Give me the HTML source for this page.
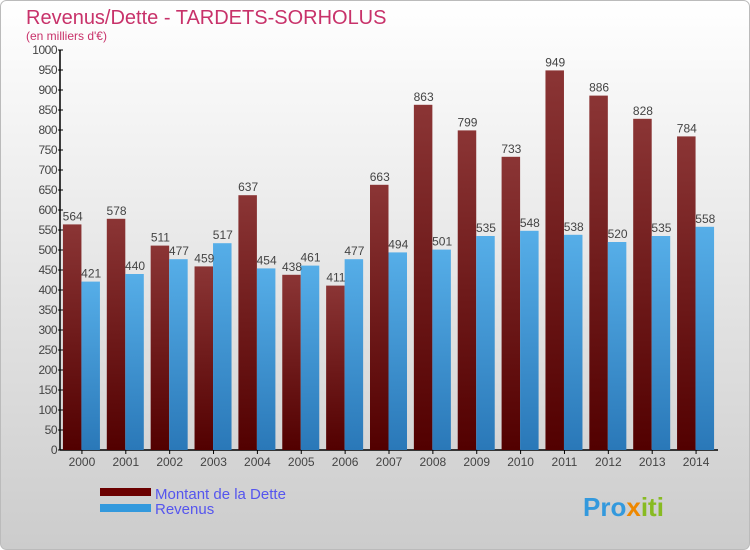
<!DOCTYPE html>
<html><head><meta charset="utf-8"><style>
html,body{margin:0;padding:0;width:750px;height:550px;overflow:hidden}
svg{display:block;font-family:"Liberation Sans","DejaVu Sans",sans-serif}
</style></head><body>
<svg id="chart" width="750" height="550" viewBox="0 0 750 550">
<defs>
<linearGradient id="bg" x1="0" y1="0" x2="0" y2="1"><stop offset="0" stop-color="#ffffff"/><stop offset="1" stop-color="#cccccc"/></linearGradient>
<linearGradient id="gd" x1="0" y1="0" x2="0" y2="1"><stop offset="0" stop-color="#8b3535"/><stop offset="1" stop-color="#520000"/></linearGradient>
<linearGradient id="gr" x1="0" y1="0" x2="0" y2="1"><stop offset="0" stop-color="#56aee8"/><stop offset="1" stop-color="#2a78b8"/></linearGradient>
</defs>
<rect x="0.5" y="0.5" width="749" height="549" rx="6" fill="url(#bg)" stroke="#bbbbbb"/>
<text x="26" y="24" font-size="20" fill="#c8326a">Revenus/Dette - TARDETS-SORHOLUS</text>
<text x="26" y="40" font-size="12" fill="#c8326a">(en milliers d'€)</text>
<g id="axes"></g>
<g id="bars"></g>
<g id="legend">
<rect x="100" y="488" width="51" height="8" fill="#6b0000"/>
<text x="155" y="499" font-size="15" fill="#5555ee">Montant de la Dette</text>
<rect x="100" y="504" width="51" height="8" fill="#3399dd"/>
<text x="155" y="514" font-size="15" fill="#5555ee">Revenus</text>
</g>
<text x="583" y="516" font-size="26" font-weight="bold" fill="#3399dd">Pro<tspan fill="#ee8800">x</tspan><tspan fill="#88bb22">iti</tspan></text>
</svg>
<script>
const years=["2000","2001","2002","2003","2004","2005","2006","2007","2008","2009","2010","2011","2012","2013","2014"];
const dette=[564,578,511,459,637,438,411,663,863,799,733,949,886,828,784];
const revenus=[421,440,477,517,454,461,477,494,501,535,548,538,520,535,558];
const yTicks=[0,50,100,150,200,250,300,350,400,450,500,550,600,650,700,750,800,850,900,950,1000];
const NS="http://www.w3.org/2000/svg";
const x0=60,x1=718,yTop=50,yBot=450,vmax=1000;
const band=(x1-x0)/years.length;
function y(v){return yBot-(v/vmax)*(yBot-yTop);}
function xc(i){return x0+band*(i+0.5);}
function mk(tag,attrs,parent){const e=document.createElementNS(NS,tag);for(const k in attrs)e.setAttribute(k,attrs[k]);parent.appendChild(e);return e;}
const axes=document.getElementById('axes'),bars=document.getElementById('bars');
let l=mk('line',{x1:x0,y1:yTop,x2:x0,y2:yBot,stroke:'#000','stroke-width':1.5},axes);


l=mk('line',{x1:x0,y1:yBot,x2:x1,y2:yBot,stroke:'#000','stroke-width':1.5},axes);


yTicks.forEach(v=>{
 const t=mk('line',{x1:x0-2,y1:y(v),x2:x0+3,y2:y(v),stroke:'#000'},axes);
 
 
 const tx=mk('text',{x:x0-3,y:y(v)+4,'font-size':12,'text-anchor':'end',fill:'#444','letter-spacing':'-0.5'},axes);
 tx.textContent=v;
 
 
});
years.forEach((yr,i)=>{
 const c=xc(i);
 const t=mk('line',{x1:c,y1:yBot,x2:c,y2:yBot+4,stroke:'#000'},axes);
 
 
 const tx=mk('text',{x:c,y:yBot+16,'font-size':12,'text-anchor':'middle',fill:'#444'},axes);
 tx.textContent=yr;
 
 
 const w=18.5;
 const bd=mk('rect',{x:c-w-0.5,y:y(dette[i]),width:w,height:yBot-y(dette[i]),fill:'url(#gd)'},bars);
 
 
 const br=mk('rect',{x:c-0.5,y:y(revenus[i]),width:w,height:yBot-y(revenus[i]),fill:'url(#gr)'},bars);
 
 
 const ld=mk('text',{x:c-w/2,y:y(dette[i])-4,'font-size':12,'text-anchor':'middle',fill:'#444'},bars);
 ld.textContent=dette[i];
 
 
 const lr=mk('text',{x:c+w/2,y:y(revenus[i])-4,'font-size':12,'text-anchor':'middle',fill:'#444'},bars);
 lr.textContent=revenus[i];
 
 
});
</script>
</body></html>
